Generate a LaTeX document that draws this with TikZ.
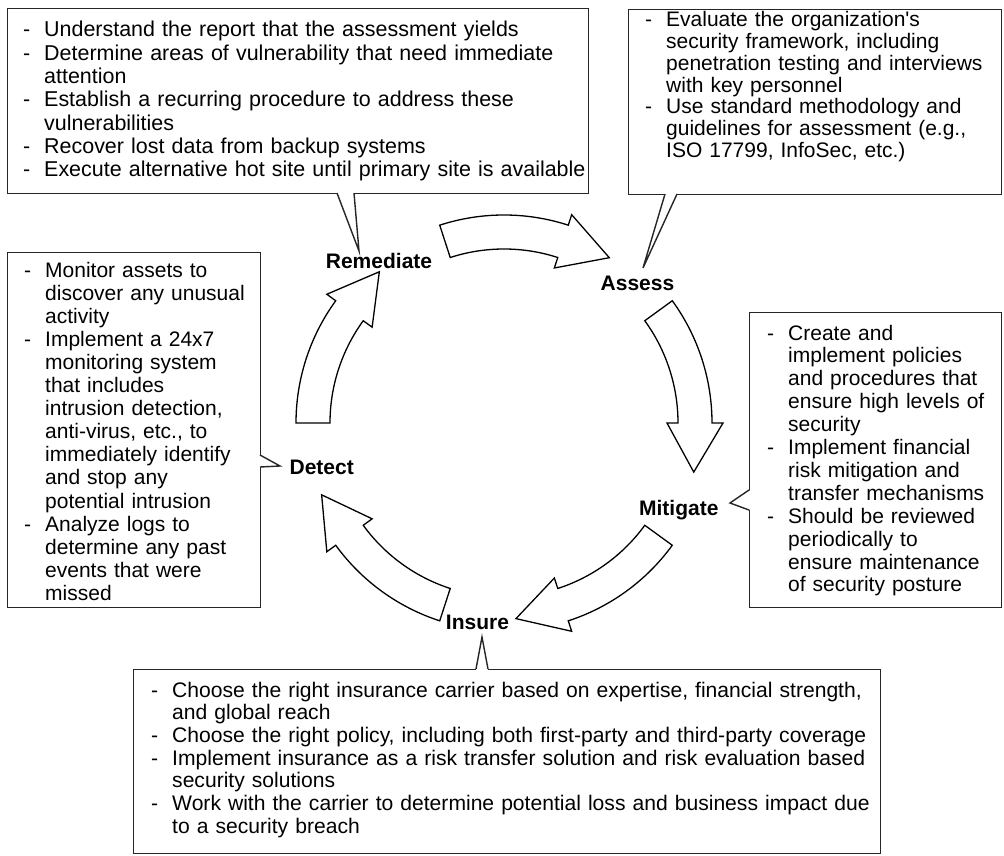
\documentclass[tikz,border=0pt]{standalone}
\usepackage{fontspec}
\setmainfont{Liberation Sans}
\usetikzlibrary{calc}

% hanging list items: a dash, then the text indented after it
\newlength\dashgap
\setlength\dashgap{21pt}
\newcommand\itm{\makebox[\dashgap][l]{-}}
\newcommand\cnt{\hspace*{\dashgap}}

\tikzset{
  panel/.style={draw=black!85, line width=1.4pt, fill=white, inner sep=0pt, anchor=north west},
  panelline/.style={draw=black!85, line width=1.4pt, line join=miter, miter limit=12},
  bodytext/.style={anchor=base west, inner sep=0pt, align=left, text width=#1},
  stage/.style={anchor=base, inner sep=0pt, font=\bfseries\fontsize{21}{25}\selectfont},
  cyclearrow/.style={draw=black, line width=1.3pt, fill=white, line join=miter},
}

\begin{document}
\begin{tikzpicture}[x=1pt, y=-1pt]
\useasboundingbox (0,0) rectangle (1004,856);
\fill[white] (0,0) rectangle (1004,856);

% five curved block arrows around the cycle
\begin{scope}[shift={(504,423)}]
  \foreach \tl in {180,108,36,-36,-108}{
    \pgfmathsetmacro\hb{\tl-36}
    \pgfmathsetmacro\tp{\tl-50.5}
    \draw[cyclearrow] (\tl:208pt) arc[start angle=\tl, end angle=\hb, radius=208pt]
      -- (\hb:219pt) -- (\tp:196pt) -- (\hb:163pt) -- (\hb:174pt)
      arc[start angle=\hb, end angle=\tl, radius=174pt] -- cycle;
  }
\end{scope}

% stage labels
\node[stage] (remediate) at (379,268.5) {Remediate};
\node[stage] (assess)    at (637.5,290.5) {Assess};
\node[stage] (mitigate)  at (678.8,515.8) {Mitigate};
\node[stage] (insure)    at (477.5,629.5) {Insure};
\node[stage] (detect)    at (321.7,474.5) {Detect};

% Remediate panel
\node[panel, minimum width=581pt, minimum height=185pt] (rbox) at (7,8) {};
\node[bodytext=570pt, font=\fontsize{21.45}{23.3}\selectfont] (rtext) at ($(rbox.north west)+(16,29)$) {%
\itm Understand the report that the assessment yields\\
\itm Determine areas of vulnerability that need immediate\\
\cnt attention\\
\itm Establish a recurring procedure to address these\\
\cnt vulnerabilities\\
\itm Recover lost data from backup systems\\
\itm Execute alternative hot site until primary site is available};

% Assess panel
\node[panel, minimum width=373pt, minimum height=185pt] (abox) at (628,9) {};
\node[bodytext=370pt, font=\fontsize{21}{21.7}\selectfont] (atext) at ($(abox.north west)+(17,18)$) {%
\itm Evaluate the organization\textquotesingle s\\
\cnt security framework, including\\
\cnt penetration testing and interviews\\
\cnt with key personnel\\
\itm Use standard methodology and\\
\cnt guidelines for assessment (e.g.,\\
\cnt ISO 17799, InfoSec, etc.)};

% Detect panel
\node[panel, minimum width=253pt, minimum height=355pt] (dbox) at (7,252) {};
\node[bodytext=245pt, font=\fontsize{21}{23.1}\selectfont] (dtext) at ($(dbox.north west)+(17,25)$) {%
\itm Monitor assets to\\
\cnt discover any unusual\\
\cnt activity\\
\itm Implement a 24x7\\
\cnt monitoring system\\
\cnt that includes\\
\cnt intrusion detection,\\
\cnt anti-virus, etc., to\\
\cnt immediately identify\\
\cnt and stop any\\
\cnt potential intrusion\\
\itm Analyze logs to\\
\cnt determine any past\\
\cnt events that were\\
\cnt missed};

% Mitigate panel
\node[panel, minimum width=252pt, minimum height=295pt] (mbox) at (749,312) {};
\node[bodytext=245pt, font=\fontsize{21}{22.9}\selectfont] (mtext) at ($(mbox.north west)+(18,28)$) {%
\itm Create and\\
\cnt implement policies\\
\cnt and procedures that\\
\cnt ensure high levels of\\
\cnt security\\
\itm Implement financial\\
\cnt risk mitigation and\\
\cnt transfer mechanisms\\
\itm Should be reviewed\\
\cnt periodically to\\
\cnt ensure maintenance\\
\cnt of security posture};

% Insure panel
\node[panel, minimum width=747pt, minimum height=184pt] (ibox) at (133,669) {};
\node[bodytext=745pt, font=\fontsize{21.1}{22.7}\selectfont] (itext) at ($(ibox.north west)+(18,28)$) {%
\itm Choose the right insurance carrier based on expertise, financial strength,\\
\cnt and global reach\\
\itm Choose the right policy, including both first-party and third-party coverage\\
\itm Implement insurance as a risk transfer solution and risk evaluation based\\
\cnt security solutions\\
\itm Work with the carrier to determine potential loss and business impact due\\
\cnt to a security breach};

% callout pointers: blank the panel edge between the legs, then draw the legs
\coordinate (rtip) at (359,251);
\fill[white] (337,191.5) -- (rtip) -- (354,191.5) -- cycle;
\draw[panelline] (337,193) -- (rtip) -- (354,193);

\coordinate (atip) at (643,268);
\fill[white] (665,192.5) -- (atip) -- (677,192.5) -- cycle;
\draw[panelline] (665,194) -- (atip) -- (677,194);

\coordinate (dtip) at (280,466);
\fill[white] (258.5,455) -- (dtip) -- (258.5,467) -- cycle;
\draw[panelline] (260,455) -- (dtip) -- (260,467);

\coordinate (mtip) at (730,503);
\fill[white] (750.5,490) -- (mtip) -- (750.5,510) -- cycle;
\draw[panelline] (749,490) -- (mtip) -- (749,510);

\coordinate (itip) at (482,637);
\fill[white] (476,670.5) -- (itip) -- (488,670.5) -- cycle;
\draw[panelline] (476,669) -- (itip) -- (488,669);
\end{tikzpicture}
\end{document}
